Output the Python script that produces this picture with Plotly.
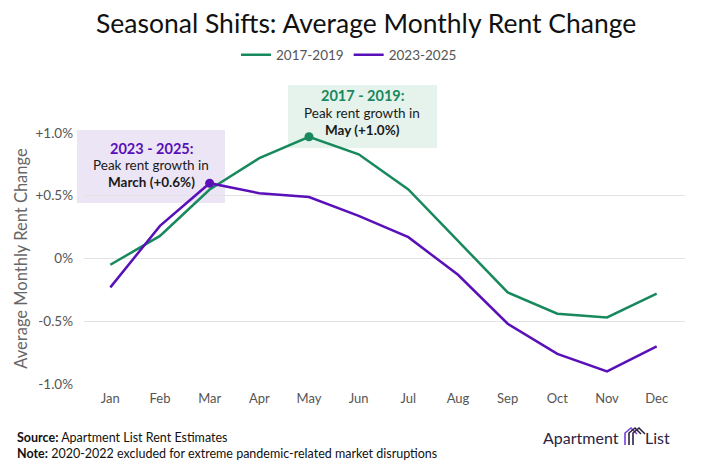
import plotly.graph_objects as go
import numpy as np

months = ["Jan", "Feb", "Mar", "Apr", "May", "Jun", "Jul", "Aug", "Sep", "Oct", "Nov", "Dec"]
rent_2017_2019 = [-0.05, 0.18, 0.55, 0.80, 0.97, 0.83, 0.55, 0.14, -0.27, -0.44, -0.47, -0.28]
rent_2023_2025 = [-0.23, 0.26, 0.60, 0.52, 0.49, 0.34, 0.17, -0.13, -0.52, -0.76, -0.90, -0.70]
y_ticks = [-1.0, -0.5, 0, 0.5, 1.0]
y_tick_labels = ["-1.0%", "-0.5%", "0%", "+0.5%", "+1.0%"]

GREEN = "#17895c"
PURPLE = "#5a10b8"
FONT = "Lato"


# page px (browser adds 8px body margin) -> paper coords of the plot area (84..685, 133..384)
def px(sx):
    return (sx - 84) / 601


def py(sy):
    return (384 - sy) / 251


fig = go.Figure()
fig.add_trace(go.Scatter(x=months, y=rent_2017_2019, mode="lines", name="2017-2019",
                         line=dict(color=GREEN, width=2.5)))
fig.add_trace(go.Scatter(x=months, y=rent_2023_2025, mode="lines", name="2023-2025",
                         line=dict(color=PURPLE, width=2.5)))

for series, color in [(rent_2017_2019, GREEN), (rent_2023_2025, PURPLE)]:
    i = int(np.argmax(series))
    fig.add_trace(go.Scatter(x=[months[i]], y=[series[i]], mode="markers", showlegend=False,
                             marker=dict(color=color, size=9), hoverinfo="skip"))

# title
fig.add_annotation(xref="paper", yref="paper", x=px(366), y=py(23), xanchor="center",
                   yanchor="middle", showarrow=False, borderpad=0,
                   text="Seasonal Shifts: Average Monthly Rent Change",
                   font=dict(family=FONT, size=26.5, color="#111"))

# callout boxes
fig.add_shape(type="rect", xref="paper", yref="paper", layer="below",
              x0=px(77), x1=px(225), y0=py(203), y1=py(130),
              fillcolor="#ece5f6", line=dict(width=0))
fig.add_shape(type="rect", xref="paper", yref="paper", layer="below",
              x0=px(288), x1=px(437), y0=py(148), y1=py(85),
              fillcolor="#e6f2ec", line=dict(width=0))


def callout(cx, ys, title, color, line2, line3):
    fig.add_annotation(xref="paper", yref="paper", x=px(cx), y=py(ys[0]), xanchor="center",
                       yanchor="middle", showarrow=False, text="<b>%s</b>" % title, borderpad=0,
                       font=dict(family=FONT, size=14.5, color=color))
    fig.add_annotation(xref="paper", yref="paper", x=px(cx), y=py(ys[1]), xanchor="center",
                       yanchor="middle", showarrow=False, text=line2, borderpad=0,
                       font=dict(family=FONT, size=13.5, color="#1a1a1a"))
    fig.add_annotation(xref="paper", yref="paper", x=px(cx), y=py(ys[2]), xanchor="center",
                       yanchor="middle", showarrow=False, text="<b>%s</b>" % line3, borderpad=0,
                       font=dict(family=FONT, size=13.5, color="#1a1a1a"))


callout(151, [148, 165, 182], "2023 - 2025:", PURPLE, "Peak rent growth in", "March (+0.6%)")
callout(362, [96, 113, 130], "2017 - 2019:", GREEN, "Peak rent growth in", "May (+1.0%)")

# footer
fig.add_annotation(xref="paper", yref="paper", x=px(15), y=py(437),
                   xanchor="left", yanchor="middle", showarrow=False,
                   text="<b>Source:</b> Apartment List Rent Estimates",
                   font=dict(family=FONT, size=12.5, color="#111"))
fig.add_annotation(xref="paper", yref="paper", x=px(15), y=py(453),
                   xanchor="left", yanchor="middle", showarrow=False,
                   text="<b>Note:</b> 2020-2022 excluded for extreme pandemic-related market disruptions",
                   font=dict(family=FONT, size=12.5, color="#111"))
# logo text
fig.add_annotation(xref="paper", yref="paper", x=px(621), y=py(437),
                   xanchor="right", yanchor="middle", showarrow=False,
                   text="Apartment", font=dict(family=FONT, size=16, color="#2d2340"))
fig.add_annotation(xref="paper", yref="paper", x=px(643), y=py(437),
                   xanchor="left", yanchor="middle", showarrow=False,
                   text="List", font=dict(family=FONT, size=16, color="#2d2340"))
# logo icon
for k, dx in enumerate([0, 4, 8]):
    fig.add_shape(type="path", xref="paper", yref="paper",
                  path="M %f %f L %f %f L %f %f L %f %f" % (
                      px(625 + dx), py(445), px(625 + dx), py(433),
                      px(631 + dx), py(428), px(637 + dx), py(434)),
                  line=dict(color="#2d2340" if k else "#7a3fd6", width=1.6))

fig.update_layout(
    width=695, height=454,
    margin=dict(l=76, r=18, t=125, b=78),
    paper_bgcolor="white", plot_bgcolor="white",
    font=dict(family=FONT, color="#555"),
    legend=dict(orientation="h", x=px(349), xanchor="center", y=py(55), yanchor="middle",
                font=dict(family=FONT, size=13.5, color="#555")),
    showlegend=True,
)
fig.update_xaxes(range=[-0.53, 11.57], showgrid=False, showline=False, zeroline=False,
                 tickfont=dict(family=FONT, size=13, color="#555"), ticks="", ticklabelstandoff=5)
fig.update_yaxes(range=[-1.0, 1.0], tickvals=y_ticks, ticktext=y_tick_labels,
                 showgrid=True, gridcolor="#e3e3e3", gridwidth=1, zeroline=False,
                 tickfont=dict(family=FONT, size=13.5, color="#555"), ticks="", ticklabelstandoff=10,
                 title=dict(text="Average Monthly Rent Change", standoff=3,
                            font=dict(family=FONT, size=16.5, color="#666")))
fig.update_traces(cliponaxis=False)

fig.write_html("out.html")
